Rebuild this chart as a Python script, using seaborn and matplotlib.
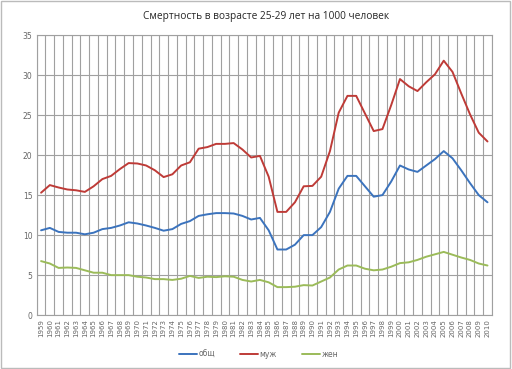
import numpy as np
import pandas as pd
import matplotlib
matplotlib.use("Agg")
import matplotlib.pyplot as plt
from matplotlib.lines import Line2D
import seaborn as sns

# --- DADOS ---
years = list(range(1959, 2011))

total = [10.6, 10.9, 10.4, 10.3, 10.3, 10.1, 10.3, 10.75, 10.9, 11.2,
         11.6, 11.45, 11.2, 10.9, 10.55, 10.75, 11.4, 11.75, 12.4, 12.6,
         12.75, 12.75, 12.7, 12.4, 11.95, 12.15, 10.6, 8.2, 8.2, 8.8,
         10.0, 10.0, 11.0, 12.9, 15.8, 17.4, 17.4, 16.1, 14.8, 15.0,
         16.7, 18.7, 18.2, 17.9, 18.7, 19.5, 20.5, 19.6, 18.1, 16.5,
         15.0, 14.1]

male = [15.3, 16.25, 15.95, 15.7, 15.6, 15.4, 16.1, 17.0, 17.4, 18.25,
        19.0, 18.95, 18.7, 18.1, 17.25, 17.6, 18.7, 19.1, 20.8, 21.0,
        21.4, 21.4, 21.5, 20.7, 19.7, 19.9, 17.3, 12.9, 12.9, 14.1,
        16.1, 16.15, 17.3, 20.5, 25.3, 27.4, 27.4, 25.2, 23.0, 23.25,
        26.25, 29.5, 28.6, 28.0, 29.1, 30.1, 31.8, 30.4, 27.7, 25.1,
        22.8, 21.7]

female = [6.75, 6.45, 5.9, 5.95, 5.9, 5.6, 5.3, 5.3, 5.0, 5.0,
          5.0, 4.8, 4.7, 4.5, 4.5, 4.4, 4.55, 4.9, 4.65, 4.8,
          4.75, 4.85, 4.8, 4.4, 4.2, 4.4, 4.1, 3.5, 3.5, 3.55,
          3.75, 3.7, 4.2, 4.7, 5.7, 6.2, 6.2, 5.8, 5.6, 5.7,
          6.05, 6.5, 6.6, 6.9, 7.3, 7.6, 7.9, 7.55, 7.2, 6.9,
          6.45, 6.2]

series_names = ["общ", "муж", "жен"]
colors = ["#3b73bd", "#be3b37", "#9bbb59"]

idx = np.arange(len(years))
df = pd.DataFrame({
    "idx": np.tile(idx, 3),
    "value": total + male + female,
    "serie": np.repeat(series_names, len(years)),
})

# --- GRÁFICO ---
sns.set_style("white")
plt.rcParams["font.family"] = ["DejaVu Sans"]

fig = plt.figure(figsize=(5.12, 3.69), dpi=100)
ax = fig.add_axes([0.0717, 0.146, 0.889, 0.759])

sns.lineplot(data=df, x="idx", y="value", hue="serie", palette=colors,
             hue_order=series_names, linewidth=1.4, ax=ax, legend=False)

ax.set_xlim(-0.5, len(years) - 0.5)
ax.set_ylim(0, 35)
ax.set_yticks(range(0, 36, 5))
ax.set_yticklabels([str(v) for v in range(0, 36, 5)], fontsize=5.5, color="#666666")
ax.set_xticks(idx)
ax.set_xticklabels([str(y) for y in years], rotation=90, fontsize=5, color="#666666")
ax.set_xticks(np.arange(-0.5, len(years), 1), minor=True)
ax.tick_params(axis="both", which="both", length=0, pad=3)
ax.grid(True, which="minor", axis="x", color="#a0a0a0", linewidth=0.8)
ax.grid(True, which="major", axis="y", color="#a0a0a0", linewidth=0.8)
ax.set_axisbelow(True)
for s in ax.spines.values():
    s.set_color("#a0a0a0")
    s.set_linewidth(0.8)
ax.set_xlabel("")
ax.set_ylabel("")

fig.text(0.519, 0.954, "Смертность в возрасте 25-29 лет на 1000 человек",
         ha="center", va="center", fontsize=7.3, family=["Open Sans", "DejaVu Sans"])

# legenda
handles = [Line2D([0], [0], color=c, lw=1.4) for c in colors]
fig.legend(handles, series_names, loc="center", bbox_to_anchor=(0.505, 0.04),
           ncol=3, frameon=False, fontsize=5.5, handlelength=2.4, columnspacing=3.2,
           handletextpad=0.2, labelcolor="#666666")

# borda externa
fig.patches.append(plt.Rectangle((0.002, 0.003), 0.995, 0.993, transform=fig.transFigure,
                                 fill=False, edgecolor="#bbbbbb", linewidth=1))

fig.savefig("out.png", dpi=100)
